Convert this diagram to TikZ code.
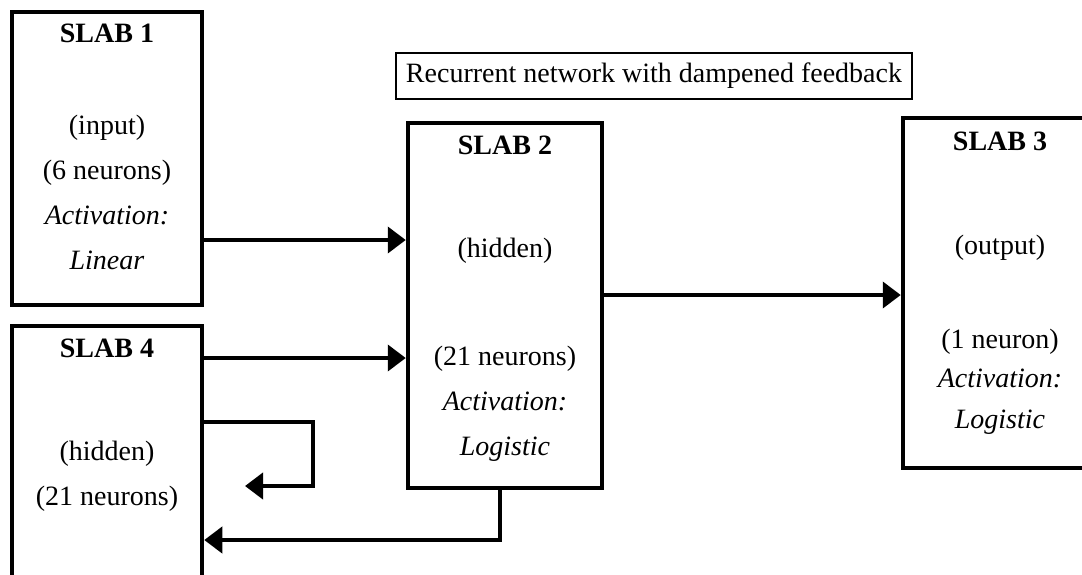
\documentclass[tikz,border=0pt]{standalone}
\usepackage{fontspec}
\setmainfont{Liberation Serif}
\usetikzlibrary{arrows.meta,positioning}

\begin{document}
\begin{tikzpicture}[
  x=0.5pt, y=-0.5pt,
  font=\fontsize{14}{22.5}\selectfont,
  slab/.style={rectangle,draw,line width=2.25pt,inner sep=0pt},
  slabtext/.style={align=center,inner sep=0pt},
  capbox/.style={rectangle,draw,line width=0.6pt,minimum width=256pt,minimum height=23pt,inner xsep=5pt},
  arr/.style={-{Triangle[length=9pt,width=13pt]},line width=2pt}
]
\useasboundingbox (0,0) rectangle (1082,574);
\clip (0,0) rectangle (1082,574);

% the four slabs
\node[slab,minimum width=95pt,minimum height=146.5pt] (slab1) at (107,158.5) {};
\node[slab,minimum width=97pt,minimum height=182.5pt] (slab2) at (505,305.5) {};
\node[slab,minimum width=97pt,minimum height=175pt] (slab3) at (1000,293) {};
\node[slab,minimum width=95pt,minimum height=160pt] (slab4) at (107,486) {};

\node[slabtext,below=7pt of slab1.north] (txt1) {\textbf{SLAB 1}\\[23.5pt] (input)\\(6 neurons)\\\textit{Activation:}\\\textit{Linear}};
\node[slabtext,below=7.5pt of slab2.north] (txt2) {\textbf{SLAB 2}\\[29pt] (hidden)\\[31.5pt] (21 neurons)\\\textit{Activation:}\\\textit{Logistic}};
\node[slabtext,below=8pt of slab3.north] (txt3) {\textbf{SLAB 3}\\[29.5pt] (output)\\[24.5pt] (1 neuron)\\[-3pt] \textit{Activation:}\\[-2pt] \textit{Logistic}};
\node[slabtext,below=7.5pt of slab4.north] (txt4) {\textbf{SLAB 4}\\[29pt] (hidden)\\(21 neurons)};

\node[capbox] (cap) at (654,76) {Recurrent network with dampened feedback};

% forward connections
\draw[arr] (slab1.east |- 0,240) -- (slab2.west |- 0,240);
\draw[arr] (slab4.east |- 0,358) -- (slab2.west |- 0,358);
\draw[arr] (slab2.east |- 0,295) -- (slab3.west |- 0,295);

% context loop and feedback
\coordinate (loopturn) at (313,486);
\coordinate (loopend) at (245,486);
\draw[arr] (slab4.east |- 0,422) -| (loopturn) -- (loopend);
\draw[arr] ([xshift=-2.5pt]slab2.south) |- (slab4.east |- 0,540);
\end{tikzpicture}
\end{document}
